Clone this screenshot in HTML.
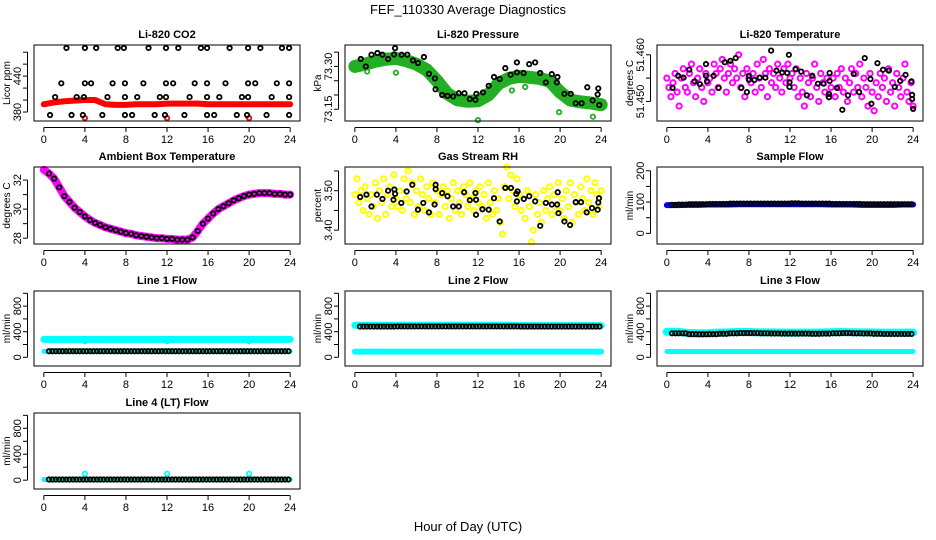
<!DOCTYPE html>
<html><head><meta charset="utf-8"><style>
html,body{margin:0;padding:0;background:#fff}
svg{display:block}
text{font-family:"Liberation Sans",Arial,sans-serif}
</style></head><body>
<svg id="chart" width="936" height="540" viewBox="0 0 936 540">
<rect width="936" height="540" fill="#fff"/>
<text x="468" y="14" font-size="13" text-anchor="middle">FEF_110330  Average Diagnostics</text>
<text x="468" y="531" font-size="13" text-anchor="middle">Hour of Day (UTC)</text>
</svg>
<script>
// ---------- data ----------
const hourTicks = [0,4,8,12,16,20,24];
const hourly = [0,1,2,3,4,5,6,7,8,9,10,11,12,13,14,15,16,17,18,19,20,21,22,23,24];

// CO2
const co2BlackT = [2.2,4.0,5.1,7.2,7.8,10.2,11.9,13.1,15.3,15.9,18.1,19.9,21.1,23.2,23.9,
 1.7,4.0,4.6,6.7,7.9,9.7,11.9,12.6,14.7,15.9,17.7,19.9,20.6,22.7,23.9,
 1.1,3.2,3.9,6.2,7.9,9.1,11.3,11.9,14.2,15.9,17.1,19.3,19.9,22.2,23.9,
 0.6,2.7,3.8,5.7,7.9,8.6,10.8,11.8,13.7,15.9,16.6,18.8,19.8,21.7,23.9];
const co2BlackV = [487,487,487,487,487,487,487,487,487,487,487,487,487,487,487,
 428,428,428,428,428,428,428,428,428,428,428,428,428,428,428,
 405,405,405,405,405,405,405,405,405,405,405,405,405,405,405,
 375,375,375,375,375,375,375,375,375,375,375,375,375,375,375];
const co2RedBand = [393,396,398,399,400,400,393,392,392,393,393,393,394,394,394,394,393,393,393,393,393,393,393,393,393];
const co2RedOutT = [4.0,12.0,20.0];
const co2RedOutV = [370,370,370];

// Pressure
const presBlackT = [0.58,1.07,1.62,2.2,2.69,3.24,3.82,3.92,4.56,5.11,5.66,6.15,6.73,7.22,7.8,7.86,8.51,9.03,9.58,10.13,10.68,11.2,11.75,11.84,12.49,13.04,13.56,14.11,14.66,15.18,15.79,15.79,16.44,16.99,17.57,18.06,18.61,19.19,19.68,19.74,20.42,21.04,21.52,22.1,22.65,23.17,23.72,23.66,23.82];
const presBlackV = [73.326,73.300,73.341,73.347,73.341,73.326,73.342,73.364,73.341,73.341,73.321,73.312,73.333,73.274,73.258,73.220,73.200,73.197,73.195,73.206,73.206,73.186,73.183,73.204,73.209,73.232,73.263,73.256,73.294,73.271,73.314,73.279,73.277,73.308,73.314,73.277,73.244,73.273,73.244,73.263,73.204,73.204,73.171,73.171,73.227,73.181,73.223,73.202,73.165];
const presBand = [73.300,73.308,73.318,73.325,73.328,73.320,73.308,73.288,73.250,73.205,73.183,73.178,73.180,73.200,73.240,73.258,73.265,73.262,73.258,73.248,73.210,73.182,73.176,73.172,73.166];
const presOutT = [1.2,4.0,12.0,15.3,16.6,19.9,23.2];
const presOutV = [73.282,73.278,73.112,73.216,73.228,73.140,73.124];

// Li-820 temperature
const tempMagV = [51.455,51.453,51.451,51.454,51.456,51.452,51.449,51.455,51.457,51.453,51.452,51.456,51.458,51.454,51.451,51.455,51.457,51.453,51.450,51.456,51.454,
 51.455,51.452,51.458,51.456,51.453,51.457,51.459,51.455,51.452,51.456,51.458,51.454,51.457,51.455,51.460,51.453,51.456,51.451,51.457,51.455,
 51.454,51.456,51.452,51.458,51.455,51.453,51.459,51.456,51.451,51.457,51.454,51.456,51.453,51.458,51.455,51.452,51.457,51.454,51.458,51.455,
 51.456,51.453,51.457,51.451,51.455,51.452,51.449,51.456,51.454,51.451,51.455,51.458,51.453,51.450,51.456,51.454,51.452,51.455,51.451,51.453,
 51.455,51.451,51.456,51.453,51.457,51.452,51.455,51.450,51.454,51.457,51.452,51.456,51.453,51.458,51.451,51.455,51.453,51.449,51.456,51.452,
 51.448,51.454,51.451,51.456,51.453,51.455,51.450,51.457,51.452,51.454,51.449,51.456,51.453,51.451,51.455,51.458,51.452,51.450,51.454,51.449];
const tempBlackT = [0.55,1.1,1.63,2.18,2.7,3.22,3.81,3.81,3.91,4.56,5.05,5.64,6.19,6.71,7.26,8.0,8.0,7.8,8.53,9.06,9.6,10.16,10.68,11.24,11.73,11.89,11.95,11.95,12.54,13.09,13.65,14.17,14.72,15.28,15.86,15.86,15.8,15.8,16.58,17.1,17.65,18.21,18.73,19.28,19.84,19.93,20.52,21.07,21.63,22.21,22.74,23.26,23.84,23.9,23.9,24.0];
const tempBlackV = [51.4529,51.4555,51.4551,51.4568,51.4543,51.4537,51.4580,51.4555,51.4543,51.4555,51.4529,51.4584,51.4587,51.4593,51.4529,51.4546,51.4555,51.4520,51.4546,51.4551,51.4551,51.4609,51.4566,51.4562,51.4561,51.4600,51.4541,51.4531,51.4569,51.4564,51.4513,51.4555,51.4538,51.4538,51.4561,51.4544,51.4516,51.4509,51.4529,51.4482,51.4513,51.4559,51.4520,51.4593,51.4548,51.4495,51.4582,51.4568,51.4566,51.4531,51.4544,51.4557,51.4543,51.4514,51.4505,51.4484];

// Ambient box temperature (half-hour)
const ambT = [0,0.5,1,1.5,2,2.5,3,3.5,4,4.5,5,5.5,6,6.5,7,7.5,8,8.5,9,9.5,10,10.5,11,11.5,12,12.5,13,13.5,14,14.5,15,15.5,16,16.5,17,17.5,18,18.5,19,19.5,20,20.5,21,21.5,22,22.5,23,23.5,24];
const ambV = [32.7,32.45,32.1,31.5,30.9,30.5,30.1,29.8,29.5,29.25,29.05,28.9,28.75,28.65,28.55,28.45,28.35,28.3,28.2,28.15,28.1,28.05,28.0,28.0,27.95,27.95,27.9,27.9,27.9,28.05,28.5,29.0,29.35,29.7,30.0,30.2,30.4,30.6,30.75,30.9,31.0,31.05,31.1,31.1,31.1,31.05,31.05,31.0,31.0];

// Gas stream RH
const rhYelV = [3.49,3.53,3.47,3.50,3.45,3.51,3.48,3.44,3.49,3.46,3.52,3.43,3.50,3.47,3.53,3.44,3.49,3.51,3.46,3.54,3.48,
 3.46,3.50,3.45,3.53,3.48,3.55,3.47,3.52,3.44,3.50,3.46,3.53,3.49,3.45,3.51,3.48,3.44,3.52,3.47,3.50,
 3.44,3.49,3.51,3.46,3.50,3.43,3.48,3.52,3.45,3.50,3.47,3.44,3.51,3.49,3.46,3.52,3.48,3.45,3.50,3.47,
 3.51,3.46,3.49,3.43,3.52,3.47,3.44,3.50,3.45,3.48,3.42,3.39,3.51,3.56,3.48,3.54,3.50,3.46,3.53,3.49,
 3.45,3.48,3.43,3.50,3.46,3.37,3.40,3.49,3.44,3.47,3.42,3.50,3.45,3.48,3.51,3.44,3.49,3.46,3.52,3.45,
 3.48,3.43,3.50,3.46,3.52,3.42,3.49,3.47,3.44,3.51,3.48,3.45,3.53,3.47,3.50,3.44,3.52,3.49,3.46,3.50];
const rhBlackT = [0.52,1.13,1.62,2.14,2.69,3.24,3.76,3.85,3.92,4.53,5.05,5.6,6.15,6.67,7.22,7.77,7.87,7.87,8.51,9.03,9.58,10.13,10.65,11.2,11.75,11.81,11.81,12.43,13.04,13.56,14.11,14.66,15.21,15.73,15.79,15.86,16.47,16.99,17.57,18.06,18.61,19.19,19.71,19.77,19.84,20.42,20.97,21.52,22.04,22.59,23.11,23.66,23.72,23.79];
const rhBlackV = [3.484,3.490,3.460,3.490,3.479,3.500,3.477,3.503,3.492,3.469,3.498,3.515,3.452,3.469,3.445,3.465,3.515,3.504,3.494,3.486,3.460,3.460,3.496,3.476,3.494,3.439,3.477,3.453,3.452,3.481,3.422,3.507,3.507,3.492,3.473,3.498,3.479,3.486,3.473,3.411,3.469,3.465,3.465,3.496,3.443,3.422,3.413,3.471,3.471,3.445,3.456,3.452,3.470,3.481];

// Sample flow (hourly)
const sampleBlue = [90,90,91,91,92,92,92,93,93,93,93,93,93,93,93,93,92,92,92,91,91,91,91,92,92];
const sampleBlack = [91,92,93,93,94,94,95,95,95,95,95,95,96,95,95,95,94,94,94,93,93,93,93,93,93];

// Line flows (hourly)
const l1CyanHi = [280,280,280,280,280,280,280,280,280,280,280,280,280,280,280,280,280,280,280,280,280,280,280,280,280];
const l1CyanLo = [92,92,92,92,92,92,92,92,92,92,92,92,92,92,92,92,92,92,92,92,92,92,92,92,92];
const l1Black = [95,95,95,95,95,95,95,95,95,95,95,95,95,95,95,95,95,95,95,95,95,95,95,95,95];
const l1DipT = [4,12,20];
const l1DipV = [250,250,250];
const l2CyanHi = [500,500,500,500,500,500,500,500,500,500,500,500,500,500,500,500,495,495,495,495,495,495,495,495,495];
const l2CyanLo = [88,88,88,88,88,88,88,88,88,88,88,88,88,88,88,88,88,88,88,88,88,88,88,88,88];
const l2Black = [480,480,480,480,482,482,482,482,482,482,482,482,482,482,482,482,480,480,480,480,480,480,480,480,480];
const l3CyanHi = [400,400,380,375,378,385,390,395,395,390,390,388,385,385,385,388,392,395,392,390,388,385,385,385,385];
const l3CyanLo = [90,90,90,90,90,90,90,90,90,90,90,90,90,90,90,90,90,90,90,90,90,90,90,90,90];
const l3Black = [375,375,362,360,362,368,375,378,378,375,372,370,370,370,368,370,375,378,375,372,368,365,365,365,365];
const l4Cyan = [10,10,10,10,10,10,10,10,10,10,10,10,10,10,10,10,10,10,10,10,10,10,10,10,10];
const l4Black = [10,10,10,10,10,10,10,10,10,10,10,10,10,10,10,10,10,10,10,10,10,10,10,10,10];
const l4SpikeT = [4,12,20];
const l4SpikeV = [100,100,100];

// ---------- drawing ----------
const NS = 'http://www.w3.org/2000/svg';
const svg = document.getElementById('chart');
function mk(tag, attrs, parent){
  const e = document.createElementNS(NS, tag);
  for (const k in attrs) e.setAttribute(k, attrs[k]);
  (parent||svg).appendChild(e);
  return e;
}
const COLS = [34, 345, 657];
const ROWS = [[45,121],[167,244],[291,366],[413,489]];
const W = 266;

function panel(col,row,title,ylab,ydom,ticks,labels,name){
  const x0 = COLS[col], x1 = x0+W, y0 = ROWS[row][0], y1 = ROWS[row][1];
  const g = mk('g',{});
  
  
  const sx = h => x0 + (h + 0.96) / 25.92 * W;
  const sy = v => y1 - (v - ydom[0]) / (ydom[1]-ydom[0]) * (y1-y0);
  const t = mk('text',{x:(x0+x1)/2,y:y0-7,'font-size':11,'font-weight':'bold','text-anchor':'middle'},g);
  t.textContent = title;
  
  
  const yl = mk('text',{transform:`translate(${x0-24},${(y0+y1)/2}) rotate(-90)`,'font-size':10,'text-anchor':'middle'},g);
  yl.textContent = ylab;
  
  
  const ax = mk('g',{stroke:'#000','stroke-width':1},g);
  
  
  mk('line',{x1:sx(0),x2:sx(24),y1:y1+6.5,y2:y1+6.5},ax);
  hourTicks.forEach(h=>{
    mk('line',{x1:sx(h),x2:sx(h),y1:y1+6.5,y2:y1+11},ax);
    const tl = mk('text',{x:sx(h),y:y1+22,'font-size':11,'text-anchor':'middle',stroke:'none'},ax);
    tl.textContent = h;
  });
  const ay = mk('g',{stroke:'#000','stroke-width':1},g);
  
  
  mk('line',{x1:x0-6.5,x2:x0-6.5,y1:sy(ticks[0]),y2:sy(ticks[ticks.length-1])},ay);
  ticks.forEach(v=>mk('line',{x1:x0-6.5,x2:x0-11,y1:sy(v),y2:sy(v)},ay));
  labels.forEach(l=>{
    const tl = mk('text',{transform:`translate(${x0-13},${sy(l[0])}) rotate(-90)`,'font-size':11,'text-anchor':'middle',stroke:'none'},ay);
    tl.textContent = l[1];
  });
  const pg = mk('g',{},g);
  
  
  const box = mk('rect',{x:x0,y:y0,width:W,height:y1-y0,fill:'none',stroke:'#000','stroke-width':1},g);
  
  
  return {sx,sy,g:pg};
}
function pts(p,ts,vs,color,nm,r,sw){
  const gg = mk('g',{fill:'none',stroke:color,'stroke-width':sw||1.8},p.g);
  
  
  ts.forEach((t,i)=>{
    const c = mk('circle',{cx:p.sx(t),cy:p.sy(vs[i]),r:r||2.2},gg);
    
    
  });
}
function band(p,ts,vs,color,w,nm){
  const l = mk('polyline',{points:ts.map((t,i)=>p.sx(t)+','+p.sy(vs[i])).join(' '),fill:'none',stroke:color,'stroke-width':w,'stroke-linejoin':'round','stroke-linecap':'round'},p.g);
  
  
}
function stepPts(p,vals,color,nm,start){
  const ts=[], vs=[];
  for(let i=0;i<72;i++){ const t=(start||0.5)+i/3; if(t>23.95)break; ts.push(t); vs.push(vals[Math.floor(t)]); }
  pts(p,ts,vs,color,nm);
}
const tstep = a => a.map((_,i)=>i*0.2);

// CO2
let p = panel(0,0,'Li-820 CO2','Licor ppm',[365,492],[380,400,420,440,460,480],[[380,'380'],[440,'440']],'co2');
band(p,hourly,co2RedBand,'#ff0000',6,'co2-red-band');
pts(p,co2RedOutT,co2RedOutV,'#ff0000','co2-red-outliers');
pts(p,co2BlackT,co2BlackV,'#000','co2-black-points');

// Pressure
p = panel(1,0,'Li-820 Pressure','kPa',[73.109,73.375],[73.15,73.20,73.25,73.30,73.35],[[73.15,'73.15'],[73.30,'73.30']],'pressure');
band(p,hourly,presBand,'#22b022',13,'pressure-green-band');
pts(p,presOutT,presOutV,'#22b022','pressure-green-outliers');
pts(p,presBlackT,presBlackV,'#000','pressure-black-points');

// Temperature
p = panel(2,0,'Li-820 Temperature','degrees C',[51.4458,51.4621],[51.450,51.455,51.460],[[51.450,'51.450'],[51.460,'51.460']],'li820-temp');
pts(p,tstep(tempMagV),tempMagV,'#ff00ff','temp-magenta-points',2.6,2);
pts(p,tempBlackT,tempBlackV,'#000','temp-black-points');

// Ambient
p = panel(0,1,'Ambient Box Temperature','degrees C',[27.6,32.9],[28,29,30,31,32],[[28,'28'],[30,'30'],[32,'32']],'ambient');
band(p,ambT,ambV,'#ff00ff',8,'ambient-magenta-band');
pts(p,ambT.slice(1),ambV.slice(1),'#000','ambient-black-points');

// RH
p = panel(1,1,'Gas Stream RH','percent',[3.365,3.56],[3.40,3.45,3.50,3.55],[[3.40,'3.40'],[3.50,'3.50']],'rh');
pts(p,tstep(rhYelV),rhYelV,'#ffff00','rh-yellow-points',2.6,2);
pts(p,rhBlackT,rhBlackV,'#000','rh-black-points');

// Sample flow
p = panel(2,1,'Sample Flow','ml/min',[-34,212],[0,50,100,150,200],[[0,'0'],[100,'100'],[200,'200']],'sample-flow');
band(p,hourly,sampleBlue,'#0000ff',6,'sample-blue-band');
stepPts(p,sampleBlack,'#000','sample-black-points');

const fT=[0,200,400,600,800,1000], fL=[[0,'0'],[400,'400'],[800,'800']], fD=[-136,1036];
// Line 1
p = panel(0,2,'Line 1 Flow','ml/min',fD,fT,fL,'line1');
band(p,hourly,l1CyanHi,'#00ffff',7,'line1-cyan-high');
band(p,hourly,l1CyanLo,'#00ffff',5,'line1-cyan-low');
pts(p,l1DipT,l1DipV,'#00ffff','line1-cyan-dips');
stepPts(p,l1Black,'#000','line1-black-points');
// Line 2
p = panel(1,2,'Line 2 Flow','ml/min',fD,fT,fL,'line2');
band(p,hourly,l2CyanHi,'#00ffff',7,'line2-cyan-high');
band(p,hourly,l2CyanLo,'#00ffff',6,'line2-cyan-low');
stepPts(p,l2Black,'#000','line2-black-points');
// Line 3
p = panel(2,2,'Line 3 Flow','ml/min',fD,fT,fL,'line3');
band(p,hourly,l3CyanHi,'#00ffff',8,'line3-cyan-high');
band(p,hourly,l3CyanLo,'#00ffff',5,'line3-cyan-low');
stepPts(p,l3Black,'#000','line3-black-points');
// Line 4
p = panel(0,3,'Line 4 (LT) Flow','ml/min',fD,fT,fL,'line4');
band(p,hourly,l4Cyan,'#00ffff',5,'line4-cyan-band');
pts(p,l4SpikeT,l4SpikeV,'#00ffff','line4-cyan-spikes');
stepPts(p,l4Black,'#000','line4-black-points');
</script>
</body></html>
